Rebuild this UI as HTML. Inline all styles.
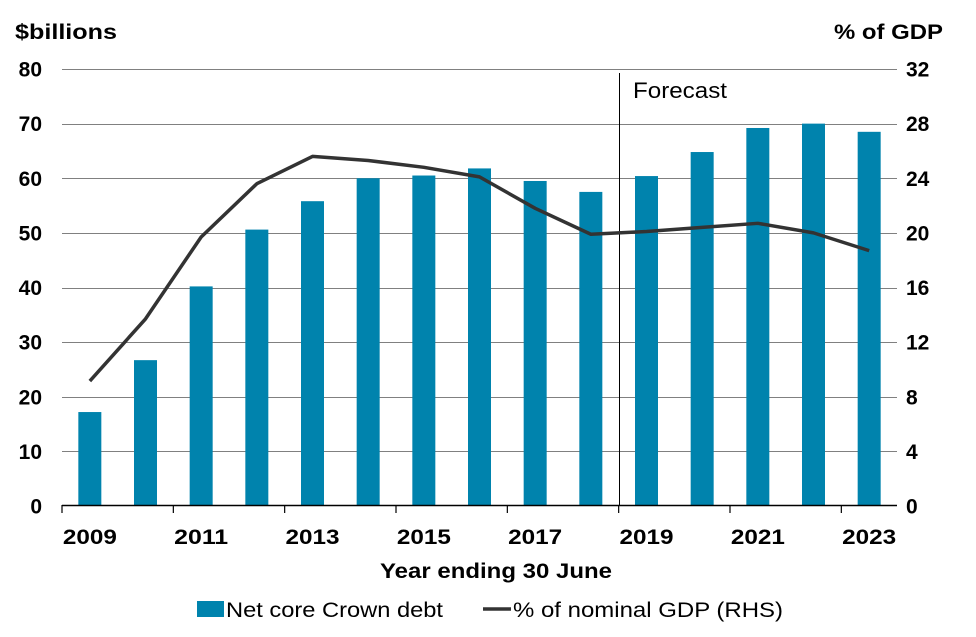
<!DOCTYPE html>
<html><head><meta charset="utf-8"><style>
body{margin:0;background:#fff}
svg{display:block;font-family:"Liberation Sans",Arial,sans-serif}
</style></head><body>
<svg width="976" height="637" viewBox="0 0 976 637" xmlns="http://www.w3.org/2000/svg">
<g stroke="#808080" stroke-width="1">
<line x1="62" x2="897" y1="69.5" y2="69.5"/>
<line x1="62" x2="897" y1="124.5" y2="124.5"/>
<line x1="62" x2="897" y1="178.5" y2="178.5"/>
<line x1="62" x2="897" y1="233.5" y2="233.5"/>
<line x1="62" x2="897" y1="288.5" y2="288.5"/>
<line x1="62" x2="897" y1="342.5" y2="342.5"/>
<line x1="62" x2="897" y1="397.5" y2="397.5"/>
<line x1="62" x2="897" y1="451.5" y2="451.5"/>
</g>
<g fill="#0083AD" id="bars"></g>
<line x1="619.5" x2="619.5" y1="73" y2="506" stroke="#000" stroke-width="1"/>
<text x="633" y="98" font-size="22" fill="#000" textLength="94" lengthAdjust="spacingAndGlyphs">Forecast</text>
<polyline id="ln" fill="none" stroke="#333" stroke-width="3.5" stroke-linejoin="round"/>
<line x1="62" x2="897" y1="505.5" y2="505.5" stroke="#000" stroke-width="1.5"/>
<g stroke="#000" stroke-width="1.2" id="ticks"></g>
<g font-size="21" font-weight="bold" fill="#000" text-anchor="end" id="yl"></g>
<g font-size="21" font-weight="bold" fill="#000" text-anchor="start" id="yr"></g>
<g font-size="21" font-weight="bold" fill="#000" id="xl"></g>
<text x="15" y="39" font-size="21" font-weight="bold" textLength="102" lengthAdjust="spacingAndGlyphs">$billions</text>
<text x="834" y="39" font-size="21" font-weight="bold" textLength="109" lengthAdjust="spacingAndGlyphs">% of GDP</text>
<text x="380" y="578" font-size="21" font-weight="bold" textLength="232" lengthAdjust="spacingAndGlyphs">Year ending 30 June</text>
<rect x="197" y="601" width="27" height="16" fill="#0083AD"/>
<text x="226" y="617" font-size="21" textLength="217" lengthAdjust="spacingAndGlyphs">Net core Crown debt</text>
<line x1="483" x2="511" y1="609" y2="609" stroke="#333" stroke-width="3.5"/>
<text x="513" y="617" font-size="21" textLength="270" lengthAdjust="spacingAndGlyphs">% of nominal GDP (RHS)</text>
</svg>
<script>
var ns="http://www.w3.org/2000/svg";
var v=[17.2,26.7,40.2,50.6,55.8,60.0,60.5,61.8,59.5,57.5,60.4,64.8,69.2,70.0,68.5];
var p=[9.15,13.7,19.7,23.6,25.6,25.3,24.8,24.1,21.8,19.9,20.1,20.4,20.7,20.0,18.7];
var bw=835/15,y0=506,sc=437/80,sc2=437/32;
var b=document.getElementById('bars'),pts=[];
function el(t,a,par,txt){var e=document.createElementNS(ns,t);for(var k in a)e.setAttribute(k,a[k]);if(txt!==undefined)e.textContent=txt;par.appendChild(e);}
for(var i=0;i<15;i++){var cx=62+bw*(i+0.5);
el('rect',{x:cx-11.5,y:y0-v[i]*sc,width:23,height:v[i]*sc},b);
pts.push(cx+','+(y0-p[i]*sc2));
if(i%2==0)el('text',{x:cx-27,y:544,textLength:54,lengthAdjust:'spacingAndGlyphs'},document.getElementById('xl'),2009+i);}
document.getElementById('ln').setAttribute('points',pts.join(' '));
for(var i=0;i<=15;i+=2){var x=62+bw*i;el('line',{x1:x,x2:x,y1:505,y2:513},document.getElementById('ticks'));}
for(var k=0;k<=8;k++){var y=y0-k*10*sc;
var s=String(k*10);
el('text',{x:42,y:y+7.5},document.getElementById('yl'),s);
el('text',{x:906,y:y+7.5},document.getElementById('yr'),k*4);}
</script>
</body></html>
